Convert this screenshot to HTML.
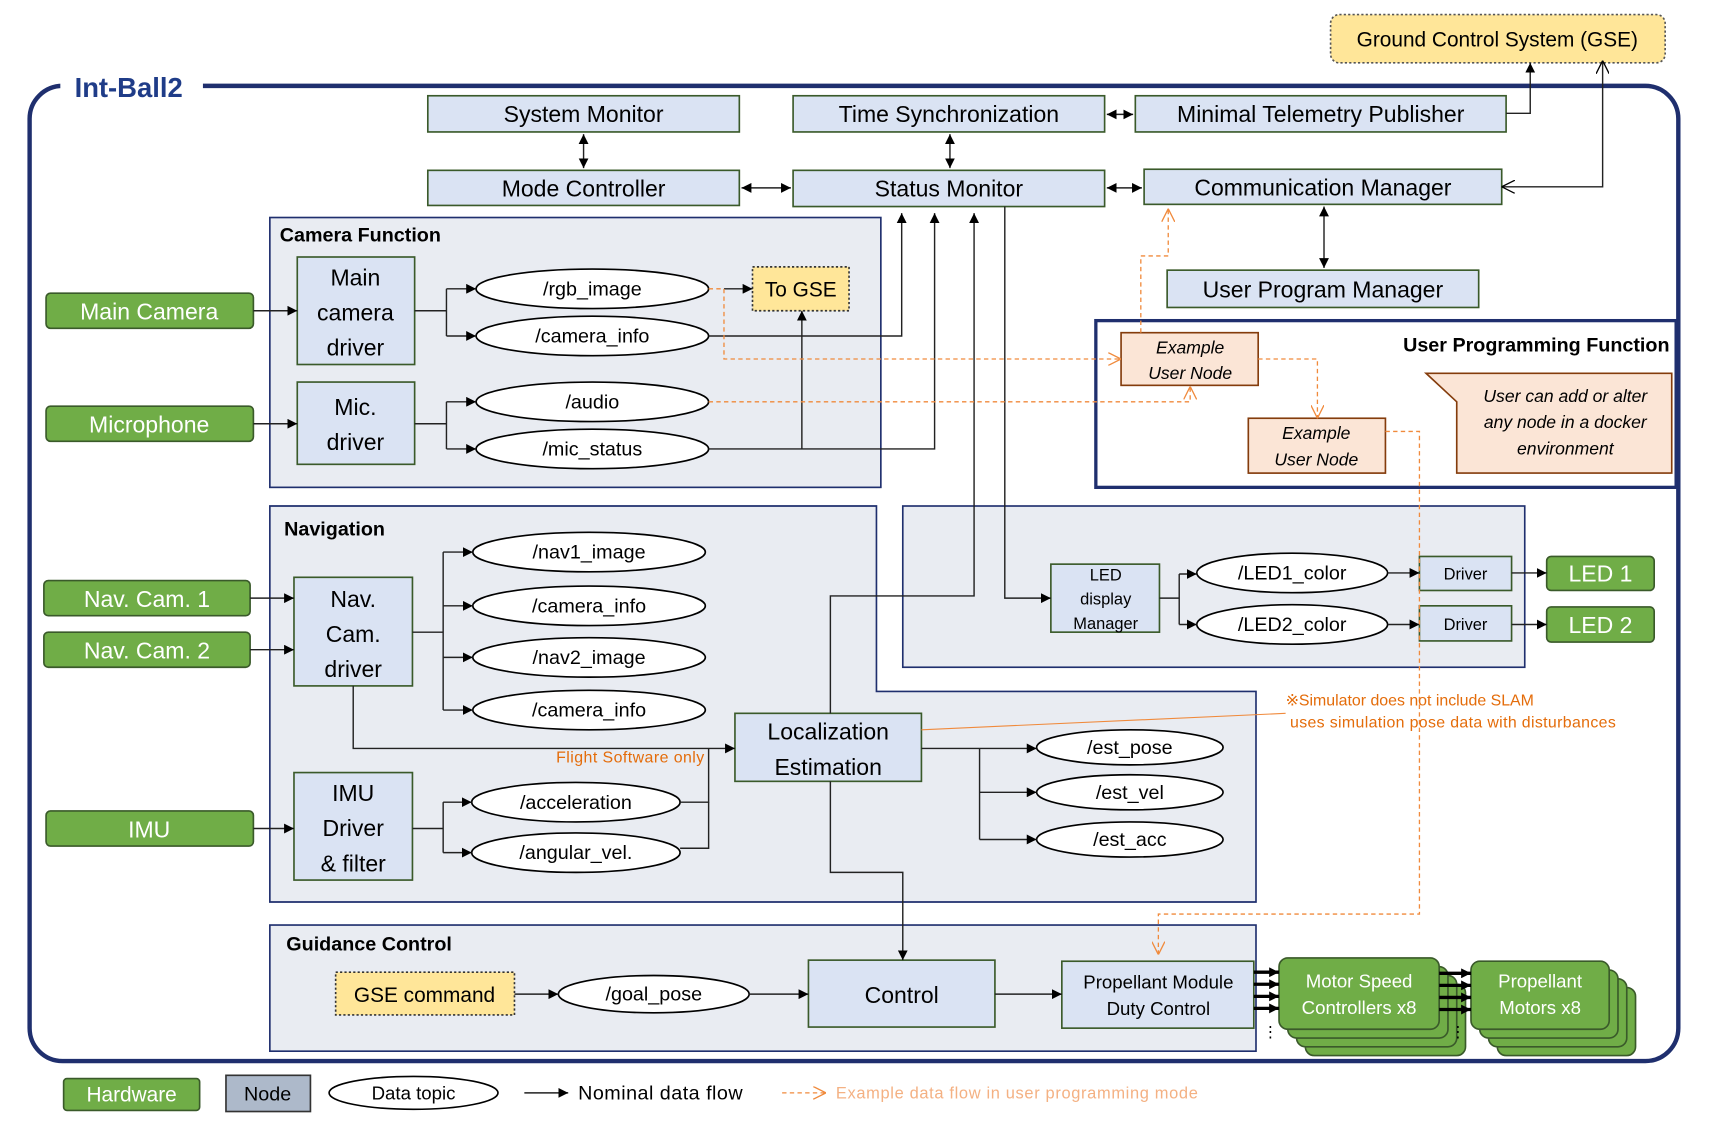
<!DOCTYPE html>
<html><head><meta charset="utf-8"><style>
html,body{margin:0;padding:0;background:#fff;}
svg{display:block;}
text{font-family:"Liberation Sans",sans-serif;}
</style></head><body>
<svg width="1720" height="1125" viewBox="0 0 1568 1025" xmlns="http://www.w3.org/2000/svg">
<defs>
<marker id="a" viewBox="0 0 10 10" refX="10" refY="5" markerWidth="9" markerHeight="9" markerUnits="userSpaceOnUse" orient="auto-start-reverse"><path d="M0,0L10,5L0,10z" fill="#000"/></marker>
<marker id="o" viewBox="0 0 10 10" refX="10" refY="5" markerWidth="12" markerHeight="12" markerUnits="userSpaceOnUse" orient="auto-start-reverse"><path d="M0,0L10,5L0,10" fill="none" stroke="#000" stroke-width="1"/></marker>
<marker id="or" viewBox="0 0 10 10" refX="10" refY="5" markerWidth="12" markerHeight="12" markerUnits="userSpaceOnUse" orient="auto-start-reverse"><path d="M0,0L10,5L0,10" fill="none" stroke="#F08A3C" stroke-width="1"/></marker>
</defs>

<rect x="27" y="78" width="1503" height="889" rx="30" fill="none" stroke="#1F2F6E" stroke-width="4"/>
<rect x="55" y="65" width="130" height="28" fill="#fff"/>
<text x="68" y="88" font-size="25" font-weight="bold" fill="#1F3C88">Int-Ball2</text>

<rect x="1213" y="13" width="305" height="44" rx="8" fill="#FFE699" stroke="#555" stroke-width="1.5" stroke-dasharray="2,2"/>
<text x="1365" y="42" font-size="19" text-anchor="middle">Ground Control System (GSE)</text>

<rect x="246" y="198" width="557" height="246" fill="#E9ECF2" stroke="#1F2F6E" stroke-width="1.5"/>
<text x="255" y="220" font-size="18" font-weight="bold">Camera Function</text>
<path d="M246,461H799V630H1145V822H246Z" fill="#E9ECF2" stroke="#1F2F6E" stroke-width="1.5"/>
<text x="259" y="488" font-size="18" font-weight="bold">Navigation</text>
<rect x="823" y="461" width="567" height="147" fill="#E9ECF2" stroke="#1F2F6E" stroke-width="1.5"/>
<rect x="246" y="843" width="899" height="115" fill="#E9ECF2" stroke="#1F2F6E" stroke-width="1.5"/>
<text x="261" y="866" font-size="18" font-weight="bold">Guidance Control</text>
<rect x="999" y="292" width="529" height="152" fill="#fff" stroke="#1F2F6E" stroke-width="3"/>
<text x="1522" y="320" font-size="18" font-weight="bold" text-anchor="end">User Programming Function</text>

<g fill="#DAE3F3" stroke="#3A5A2A" stroke-width="1.5">
<rect x="390" y="87" width="284" height="33"/>
<rect x="723" y="87" width="284" height="33"/>
<rect x="1035" y="87" width="338" height="33"/>
<rect x="390" y="155" width="284" height="32"/>
<rect x="723" y="155" width="284" height="33"/>
<rect x="1043" y="154" width="326" height="32"/>
<rect x="1064" y="246" width="284" height="34"/>
<rect x="271" y="234" width="107" height="98"/>
<rect x="271" y="348" width="107" height="75"/>
<rect x="268" y="526" width="108" height="99"/>
<rect x="268" y="704" width="108" height="98"/>
<rect x="670" y="650" width="170" height="62"/>
<rect x="958" y="514" width="99" height="62"/>
<rect x="1294" y="507" width="84" height="31"/>
<rect x="1294" y="552" width="84" height="32"/>
<rect x="737" y="875" width="170" height="61"/>
<rect x="968" y="876" width="175" height="61"/>
</g>
<g font-size="21" text-anchor="middle">
<text x="532" y="111">System Monitor</text>
<text x="865" y="111">Time Synchronization</text>
<text x="1204" y="111">Minimal Telemetry Publisher</text>
<text x="532" y="179">Mode Controller</text>
<text x="865" y="179">Status Monitor</text>
<text x="1206" y="178">Communication Manager</text>
<text x="1206" y="271">User Program Manager</text>
<text x="324" y="260">Main</text><text x="324" y="292">camera</text><text x="324" y="324">driver</text>
<text x="324" y="378">Mic.</text><text x="324" y="410">driver</text>
<text x="322" y="553">Nav.</text><text x="322" y="585">Cam.</text><text x="322" y="617">driver</text>
<text x="322" y="730">IMU</text><text x="322" y="762">Driver</text><text x="322" y="794">&amp; filter</text>
<text x="755" y="674">Localization</text><text x="755" y="706">Estimation</text>
<text x="822" y="914">Control</text>
</g>
<g font-size="15" text-anchor="middle">
<text x="1008" y="529">LED</text><text x="1008" y="551">display</text><text x="1008" y="573">Manager</text>
<text x="1336" y="528">Driver</text><text x="1336" y="574">Driver</text>
</g>
<g font-size="17" text-anchor="middle">
<text x="1056" y="901">Propellant Module</text><text x="1056" y="925">Duty Control</text>
</g>

<rect x="686" y="243" width="88" height="40" fill="#FFE699" stroke="#333" stroke-width="1.5" stroke-dasharray="2,2"/>
<text x="730" y="270" font-size="19" text-anchor="middle">To GSE</text>
<rect x="306" y="886" width="163" height="39" fill="#FFE699" stroke="#333" stroke-width="1.5" stroke-dasharray="2,2"/>
<text x="387" y="913" font-size="19" text-anchor="middle">GSE command</text>

<g fill="#70AD47" stroke="#3A5A2A" stroke-width="1.5">
<rect x="42" y="267" width="189" height="32" rx="4"/>
<rect x="42" y="370" width="189" height="32" rx="4"/>
<rect x="40" y="529" width="188" height="32" rx="4"/>
<rect x="40" y="576" width="188" height="32" rx="4"/>
<rect x="42" y="739" width="189" height="32" rx="4"/>
<rect x="1410" y="507" width="98" height="31" rx="4"/>
<rect x="1410" y="553" width="98" height="32" rx="4"/>
<rect x="1190" y="897" width="146" height="65" rx="8"/>
<rect x="1182" y="889" width="146" height="65" rx="8"/>
<rect x="1174" y="881" width="146" height="65" rx="8"/>
<rect x="1166" y="873" width="146" height="65" rx="8"/>
<rect x="1365" y="900" width="126" height="62" rx="8"/>
<rect x="1357" y="892" width="126" height="62" rx="8"/>
<rect x="1349" y="884" width="126" height="62" rx="8"/>
<rect x="1341" y="876" width="126" height="62" rx="8"/>
</g>
<g fill="#fff" font-size="21" text-anchor="middle">
<text x="136" y="291">Main Camera</text>
<text x="136" y="394">Microphone</text>
<text x="134" y="553">Nav. Cam. 1</text>
<text x="134" y="600">Nav. Cam. 2</text>
<text x="136" y="763">IMU</text>
<text x="1459" y="530">LED 1</text>
<text x="1459" y="577">LED 2</text>
</g>
<g fill="#fff" font-size="17" text-anchor="middle">
<text x="1239" y="900">Motor Speed</text><text x="1239" y="924">Controllers x8</text>
<text x="1404" y="900">Propellant</text><text x="1404" y="924">Motors x8</text>
</g>

<g fill="#FBE5D6" stroke="#843C0C" stroke-width="1.5">
<rect x="1022" y="303" width="125" height="48"/>
<rect x="1138" y="381" width="125" height="50"/>
<path d="M1328,340H1524V431H1328V366L1300,340Z"/>
</g>
<g font-size="16" font-style="italic" text-anchor="middle">
<text x="1085" y="322">Example</text><text x="1085" y="345">User Node</text>
<text x="1200" y="400">Example</text><text x="1200" y="424">User Node</text>
<text x="1427" y="366">User can add or alter</text>
<text x="1427" y="390">any node in a docker</text>
<text x="1427" y="414">environment</text>
</g>

<g fill="#fff" stroke="#000" stroke-width="1.5">
<ellipse cx="540" cy="263" rx="106" ry="18"/>
<ellipse cx="540" cy="306" rx="106" ry="18"/>
<ellipse cx="540" cy="366" rx="106" ry="18"/>
<ellipse cx="540" cy="409" rx="106" ry="18"/>
<ellipse cx="537" cy="503" rx="106" ry="18"/>
<ellipse cx="537" cy="552" rx="106" ry="18"/>
<ellipse cx="537" cy="599" rx="106" ry="18"/>
<ellipse cx="537" cy="647" rx="106" ry="18"/>
<ellipse cx="525" cy="731" rx="95" ry="18"/>
<ellipse cx="525" cy="777" rx="95" ry="18"/>
<ellipse cx="1030" cy="681" rx="85" ry="16"/>
<ellipse cx="1030" cy="722" rx="85" ry="16"/>
<ellipse cx="1030" cy="765" rx="85" ry="16"/>
<ellipse cx="1178" cy="522" rx="87" ry="18"/>
<ellipse cx="1178" cy="569" rx="87" ry="18"/>
<ellipse cx="596" cy="906" rx="87" ry="17"/>
</g>
<g font-size="18" text-anchor="middle">
<text x="540" y="269">/rgb_image</text>
<text x="540" y="312">/camera_info</text>
<text x="540" y="372">/audio</text>
<text x="540" y="415">/mic_status</text>
<text x="537" y="509">/nav1_image</text>
<text x="537" y="558">/camera_info</text>
<text x="537" y="605">/nav2_image</text>
<text x="537" y="653">/camera_info</text>
<text x="525" y="737">/acceleration</text>
<text x="525" y="783">/angular_vel.</text>
<text x="1030" y="687">/est_pose</text>
<text x="1030" y="728">/est_vel</text>
<text x="1030" y="771">/est_acc</text>
<text x="1178" y="528">/LED1_color</text>
<text x="1178" y="575">/LED2_color</text>
<text x="596" y="912">/goal_pose</text>
</g>

<g fill="none" stroke="#222" stroke-width="1.3">
<path d="M532,122V153" marker-start="url(#a)" marker-end="url(#a)"/>
<path d="M866,122V153" marker-start="url(#a)" marker-end="url(#a)"/>
<path d="M1009,104H1033" marker-start="url(#a)" marker-end="url(#a)"/>
<path d="M676,171H721" marker-start="url(#a)" marker-end="url(#a)"/>
<path d="M1009,171H1041" marker-start="url(#a)" marker-end="url(#a)"/>
<path d="M1207,188V244" marker-start="url(#a)" marker-end="url(#a)"/>
<path d="M1373,103H1395V57" marker-end="url(#a)"/>
<path d="M1369,170H1461V55" marker-start="url(#o)" marker-end="url(#o)"/>
<path d="M231,283H271" marker-end="url(#a)"/>
<path d="M378,283H407"/><path d="M407,263V306"/>
<path d="M407,263H434" marker-end="url(#a)"/><path d="M407,306H434" marker-end="url(#a)"/>
<path d="M231,386H271" marker-end="url(#a)"/>
<path d="M378,386H407"/><path d="M407,366V409"/>
<path d="M407,366H434" marker-end="url(#a)"/><path d="M407,409H434" marker-end="url(#a)"/>
<path d="M660,263H686" marker-end="url(#a)"/>
<path d="M646,306H822V194" marker-end="url(#a)"/>
<path d="M646,409H852V194" marker-end="url(#a)"/>
<path d="M731,409V283" marker-end="url(#a)"/>
<path d="M757,650V543H888V194" marker-end="url(#a)"/>
<path d="M916,188V545H958" marker-end="url(#a)"/>
<path d="M228,545H268" marker-end="url(#a)"/>
<path d="M228,592H268" marker-end="url(#a)"/>
<path d="M376,576H404"/><path d="M404,503V647"/>
<path d="M404,503H431" marker-end="url(#a)"/><path d="M404,552H431" marker-end="url(#a)"/>
<path d="M404,599H431" marker-end="url(#a)"/><path d="M404,647H431" marker-end="url(#a)"/>
<path d="M322,625V682H670" marker-end="url(#a)"/>
<path d="M231,755H268" marker-end="url(#a)"/>
<path d="M376,755H404"/><path d="M404,731V777"/>
<path d="M404,731H430" marker-end="url(#a)"/><path d="M404,777H430" marker-end="url(#a)"/>
<path d="M620,731H646V682"/><path d="M620,773H646V731"/>
<path d="M840,682H893"/><path d="M893,682V765"/>
<path d="M893,682H945" marker-end="url(#a)"/><path d="M893,722H945" marker-end="url(#a)"/><path d="M893,765H945" marker-end="url(#a)"/>
<path d="M757,712V795H823V875" marker-end="url(#a)"/>
<path d="M1057,545H1075"/><path d="M1075,523V569"/>
<path d="M1075,523H1091" marker-end="url(#a)"/><path d="M1075,569H1091" marker-end="url(#a)"/>
<path d="M1265,522H1294" marker-end="url(#a)"/><path d="M1265,569H1294" marker-end="url(#a)"/>
<path d="M1378,522H1410" marker-end="url(#a)"/><path d="M1378,569H1410" marker-end="url(#a)"/>
<path d="M469,906H509" marker-end="url(#a)"/>
<path d="M683,906H737" marker-end="url(#a)"/>
<path d="M907,906H968" marker-end="url(#a)"/>
<path d="M478,996H518" marker-end="url(#a)"/>
</g>
<g fill="none" stroke="#000" stroke-width="3">
<path d="M1143,886H1166" marker-end="url(#a)"/><path d="M1143,897H1166" marker-end="url(#a)"/>
<path d="M1143,908H1166" marker-end="url(#a)"/><path d="M1143,919H1166" marker-end="url(#a)"/>
<path d="M1312,887H1341" marker-end="url(#a)"/><path d="M1312,898H1341" marker-end="url(#a)"/>
<path d="M1312,909H1341" marker-end="url(#a)"/><path d="M1312,920H1341" marker-end="url(#a)"/>
</g>
<text x="1151" y="945" font-size="14">⋮</text>
<text x="1322" y="945" font-size="14">⋮</text>

<g fill="none" stroke="#F08A3C" stroke-width="1.2" stroke-dasharray="4,3">
<path d="M646,263H660V327H1022" marker-end="url(#or)"/>
<path d="M646,366H1085V352" marker-end="url(#or)"/>
<path d="M1040,303V233H1065V190" marker-end="url(#or)"/>
<path d="M1147,327H1201V381" marker-end="url(#or)"/>
<path d="M1263,393H1294V833H1056V870" marker-end="url(#or)"/>
<path d="M713,996H753" marker-end="url(#or)"/>
</g>
<path d="M840,665L1172,650" stroke="#F08A3C" stroke-width="1" fill="none"/>
<g fill="#E46C0A" font-size="14.5">
<text x="1172" y="643">※Simulator does not include SLAM</text>
<text x="1176" y="663" textLength="297">uses simulation pose data with disturbances</text>
<text x="507" y="695" textLength="135">Flight Software only</text>
</g>

<rect x="58" y="983" width="124" height="29" rx="3" fill="#70AD47" stroke="#3A5A2A" stroke-width="1.5"/>
<text x="120" y="1004" font-size="19" fill="#fff" text-anchor="middle">Hardware</text>
<rect x="206" y="980" width="77" height="33" fill="#ADB9CA" stroke="#333" stroke-width="1.5"/>
<text x="244" y="1003" font-size="18" text-anchor="middle">Node</text>
<ellipse cx="377" cy="996" rx="77" ry="15" fill="#fff" stroke="#000" stroke-width="1.5"/>
<text x="377" y="1002" font-size="17" text-anchor="middle">Data topic</text>
<text x="527" y="1002" font-size="18" textLength="150">Nominal data flow</text>
<text x="762" y="1001" font-size="15" fill="#F4B183" textLength="330">Example data flow in user programming mode</text>
</svg>
</body></html>
